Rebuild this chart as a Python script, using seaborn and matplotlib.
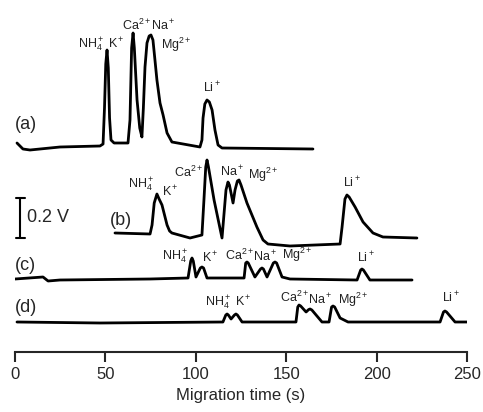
import matplotlib
matplotlib.use("Agg")
import matplotlib.pyplot as plt
import seaborn as sns
import pandas as pd

# traces: migration time (s), signal above baseline (V)
time_a = [1.1, 4.4, 8.3, 24.9, 47.0, 48.7, 49.5, 50.2, 50.9, 51.6, 52.3, 53.1, 54.8, 62.5,
          63.6, 64.5, 65.3, 66.0, 67.5, 69.0, 70.2, 71.0, 71.9, 73.0, 74.2, 75.2, 76.3, 77.3,
          78.5, 80.2, 81.9, 84.1, 86.8, 102.3, 103.4, 104.0, 105.0, 106.2, 107.5, 109.0,
          110.6, 112.3, 114.5, 164.8]
sig_a = [0.025, -0.005, -0.01, 0.005, 0.01, 0.02, 0.2, 0.42, 0.49, 0.4, 0.15, 0.04, 0.025, 0.025,
         0.14, 0.5, 0.575, 0.5, 0.24, 0.1, 0.055, 0.2, 0.405, 0.525, 0.56, 0.565, 0.54, 0.45,
         0.34, 0.225, 0.165, 0.075, 0.03, 0.005, 0.04, 0.15, 0.22, 0.24, 0.23, 0.19,
         0.09, 0.015, 0.0, -0.005]

time_b = [55.3, 74.7, 75.8, 77.0, 78.5, 79.7, 81.3, 82.7, 84.1, 85.5, 86.8, 96.8, 103.4,
          104.5, 105.5, 106.2, 107.0, 110.1, 114.5, 116.7, 117.8, 118.6, 120.6, 121.7, 123.0,
          123.9, 125.0, 128.3, 133.8, 137.2, 139.9, 152.1, 179.8, 180.9, 182.5, 183.6, 184.8,
          188.1, 192.5, 198.0, 203.5, 222.3]
sig_b = [0.0, -0.005, 0.04, 0.15, 0.195, 0.17, 0.14, 0.09, 0.04, 0.01, 0.0, -0.025, -0.01,
         0.165, 0.33, 0.365, 0.33, 0.165, -0.025, 0.215, 0.255, 0.24, 0.15, 0.215, 0.26,
         0.265, 0.24, 0.15, 0.03, -0.035, -0.055, -0.065, -0.055, 0.03, 0.17, 0.19, 0.18,
         0.13, 0.055, 0.0, -0.02, -0.025]

time_c = [0.0, 15.5, 18.3, 24.9, 74.7, 95.7, 97.2, 97.9, 98.6, 100.1, 102.5, 103.4, 104.3,
          106.2, 126.7, 127.6, 128.3, 129.0, 132.7, 135.8, 136.6, 137.4, 139.4, 142.9, 143.8,
          144.7, 147.7, 152.1, 189.2, 191.2, 191.9, 192.7, 196.3, 219.6]
sig_c = [0.0, 0.01, -0.01, -0.005, 0.0, 0.005, 0.09, 0.105, 0.09, 0.01, 0.055, 0.06, 0.055,
         0.005, 0.005, 0.08, 0.085, 0.08, 0.01, 0.05, 0.055, 0.05, 0.01, 0.08, 0.085,
         0.08, 0.01, 0.0, -0.005, 0.045, 0.05, 0.045, -0.005, -0.005]

time_d = [1.1, 47.0, 115.0, 116.6, 117.3, 118.0, 119.5, 121.4, 122.2, 123.0, 125.6, 155.4,
          156.4, 157.1, 158.0, 161.0, 162.4, 163.2, 164.2, 169.8, 173.7, 175.1, 175.9, 176.8,
          179.8, 184.2, 235.1, 237.0, 237.8, 238.7, 243.4, 250.0]
sig_d = [0.0, -0.005, 0.0, 0.035, 0.04, 0.035, 0.015, 0.035, 0.04, 0.035, 0.0, 0.0,
         0.075, 0.085, 0.08, 0.05, 0.062, 0.065, 0.06, 0.0, 0.0, 0.075, 0.08, 0.075,
         0.02, 0.0, 0.0, 0.05, 0.055, 0.05, 0.0, 0.0]

trace_names = ["(a)", "(b)", "(c)", "(d)"]
offsets = [1.02, 0.595, 0.365, 0.15]

# peak labels: (text, time, height)
labels_a = [(r"NH$_4^+$ K$^+$", 34.8, 1.535), (r"Ca$^{2+}$Na$^+$", 59.2, 1.635),
            (r"Mg$^{2+}$", 80.8, 1.535), (r"Li$^+$", 104.0, 1.32)]
labels_b = [(r"NH$_4^+$", 62.5, 0.835), (r"K$^+$", 81.5, 0.80), (r"Ca$^{2+}$", 88.0, 0.9),
            (r"Na$^+$", 113.5, 0.9), (r"Mg$^{2+}$", 129.0, 0.885), (r"Li$^+$", 181.5, 0.845)]
labels_c = [(r"NH$_4^+$", 81.5, 0.475), (r"K$^+$", 103.5, 0.47), (r"Ca$^{2+}$", 116.0, 0.485),
            (r"Na$^+$", 131.5, 0.475), (r"Mg$^{2+}$", 147.5, 0.485), (r"Li$^+$", 189.0, 0.47)]
labels_d = [(r"NH$_4^+$ K$^+$", 105.0, 0.245), (r"Ca$^{2+}$", 146.5, 0.275),
            (r"Na$^+$", 162.0, 0.26), (r"Mg$^{2+}$", 178.5, 0.26), (r"Li$^+$", 236.0, 0.27)]
trace_label_pos = [(0.0, 1.135), (52.5, 0.655), (0.0, 0.435), (0.0, 0.22)]

scale_bar_t = [3.0, 3.0]
scale_bar_v = [0.57, 0.77]

frames = []
for name, t, s, off in zip(trace_names, [time_a, time_b, time_c, time_d],
                           [sig_a, sig_b, sig_c, sig_d], offsets):
    frames.append(pd.DataFrame({"time": t, "signal": [v + off for v in s], "trace": name}))
df = pd.concat(frames, ignore_index=True)

sns.set_style("ticks")
plt.rcParams["font.family"] = ["Liberation Sans", "DejaVu Sans"]
plt.rcParams["mathtext.fontset"] = "custom"
plt.rcParams["mathtext.rm"] = "Liberation Sans"
plt.rcParams["mathtext.it"] = "Liberation Sans:italic"
plt.rcParams["mathtext.bf"] = "Liberation Sans:bold"

fig = plt.figure(figsize=(4.83, 4.12), dpi=100)
ax = fig.add_axes([15 / 483, 1 - 352 / 412, 452 / 483, 352 / 412])

sns.lineplot(data=df, x="time", y="signal", units="trace", estimator=None, sort=False,
             color="black", lw=2.0, ax=ax)

for labels in [labels_a, labels_b, labels_c, labels_d]:
    for txt, t, v in labels:
        ax.text(t, v, txt, fontsize=9, ha="left", va="center", color="#222222")

for name, (t, v) in zip(trace_names, trace_label_pos):
    ax.text(t, v, name, fontsize=13, ha="left", va="center")

# 0.2 V scale bar
ax.plot(scale_bar_t, scale_bar_v, color="black", lw=1.5)
for v in scale_bar_v:
    ax.plot([0.3, 5.7], [v, v], color="black", lw=1.5)
ax.text(6.8, sum(scale_bar_v) / 2, "0.2 V", fontsize=13, ha="left", va="center")

ax.set_xlim(0, 250)
ax.set_ylim(0, 1.76)
ax.set_xticks([0, 50, 100, 150, 200, 250])
ax.set_yticks([])
ax.set_xlabel("Migration time (s)", fontsize=12, labelpad=4)
ax.set_ylabel("")
for side in ["top", "right", "left"]:
    ax.spines[side].set_visible(False)
ax.spines["bottom"].set_linewidth(1.5)
ax.tick_params(axis="x", direction="out", length=7, width=1.5, labelsize=12, pad=4)

fig.savefig("out.png", dpi=100)
